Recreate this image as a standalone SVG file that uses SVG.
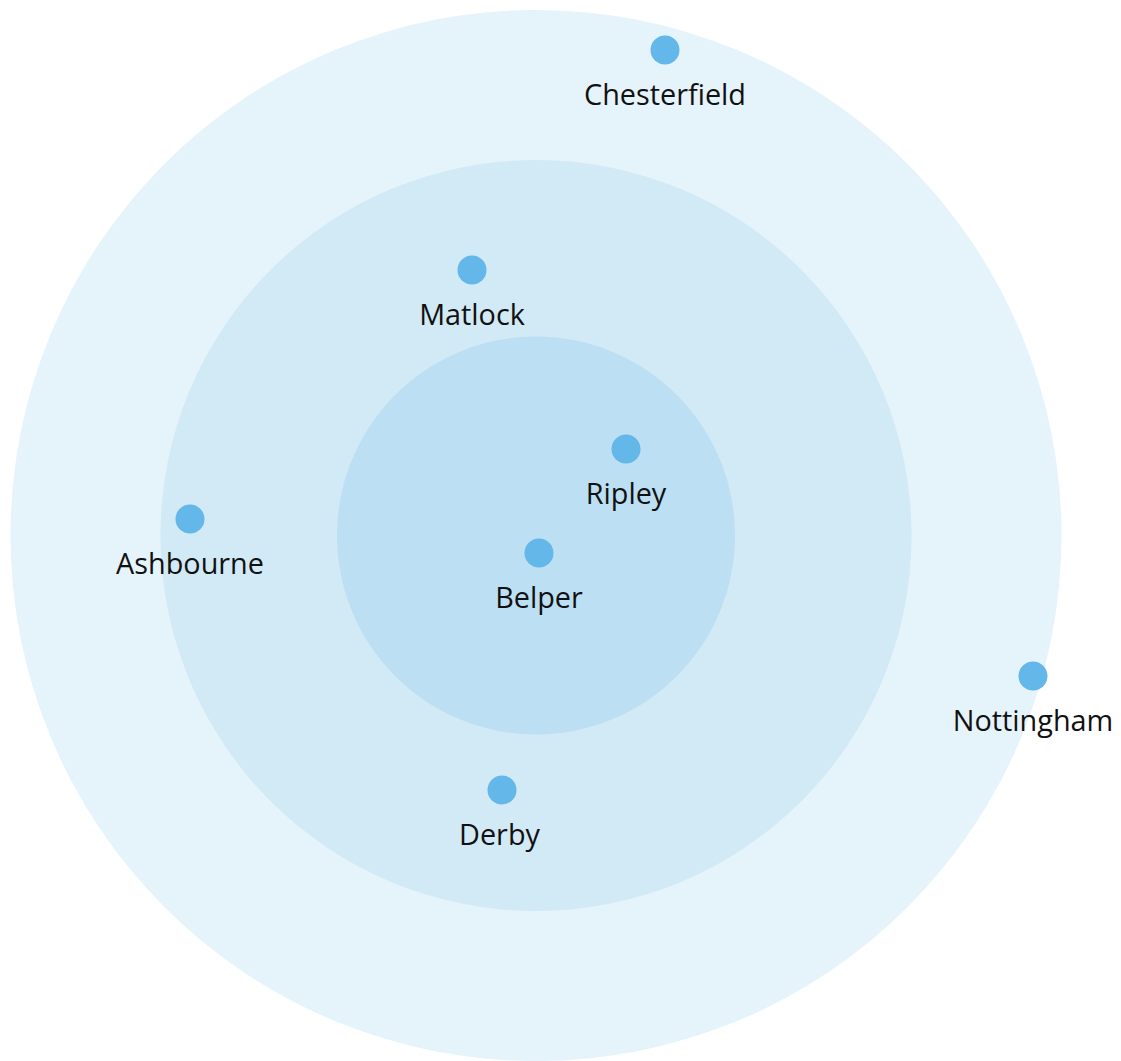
<svg xmlns="http://www.w3.org/2000/svg" width="1121" height="1061" viewBox="0 0 1121 1061">
<style>
.dot{fill:#63b7e9}
.lbl{font-family:"Open Sans","Noto Sans",sans-serif;font-size:28.8px;fill:#111;text-anchor:middle}
</style>
<rect width="1121" height="1061" fill="#ffffff"/>
<g id="rings">
<circle cx="536" cy="535.5" r="525.5" fill="#e5f3fb"/>
<circle cx="536" cy="535.5" r="375.5" fill="#d2e9f6"/>
<circle cx="536" cy="535.5" r="199" fill="#bcdff3"/>
</g>
<g id="connectors"></g>
<g id="node-chesterfield"><circle class="dot" cx="665" cy="50" r="14.5"/><text class="lbl" x="665" y="105">Chesterfield</text></g>
<g id="node-matlock"><circle class="dot" cx="472" cy="270" r="14.5"/><text class="lbl" x="472" y="325">Matlock</text></g>
<g id="node-ripley"><circle class="dot" cx="626" cy="449" r="14.5"/><text class="lbl" x="626" y="504">Ripley</text></g>
<g id="node-ashbourne"><circle class="dot" cx="190" cy="519" r="14.5"/><text class="lbl" x="190" y="574">Ashbourne</text></g>
<g id="node-belper"><circle class="dot" cx="539" cy="553" r="14.5"/><text class="lbl" x="539" y="608">Belper</text></g>
<g id="node-nottingham"><circle class="dot" cx="1033" cy="676" r="14.5"/><text class="lbl" x="1033" y="731">Nottingham</text></g>
<g id="node-derby"><circle class="dot" cx="502" cy="790" r="14.5"/><text class="lbl" x="499.5" y="845">Derby</text></g>
</svg>
